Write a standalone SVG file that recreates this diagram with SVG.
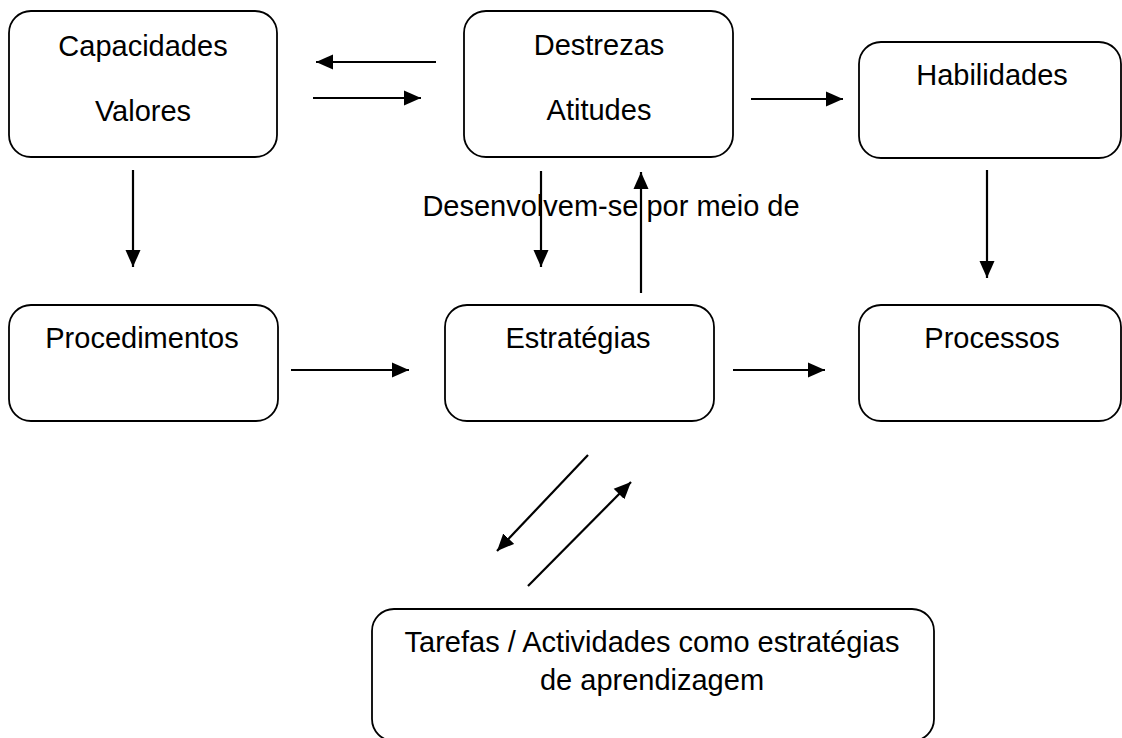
<svg xmlns="http://www.w3.org/2000/svg" width="1122" height="738" viewBox="0 0 1122 738">
<defs>
<marker id="arr" markerUnits="userSpaceOnUse" markerWidth="18" markerHeight="16" refX="17" refY="8" orient="auto">
<path d="M0,0.5 L17,8 L0,15.5 z" fill="#000"/>
</marker>
<style>
.box{fill:#fff;stroke:#000;stroke-width:1.8}
.t{font-family:"Liberation Sans",Arial,sans-serif;font-size:29px;fill:#000;text-anchor:middle}
.c{stroke:#000;stroke-width:2.2;fill:none;marker-end:url(#arr)}
</style>
</defs>
<rect width="1122" height="738" fill="#fff"/>
<g id="capacidades">
<rect class="box" x="9" y="11" width="268" height="146" rx="22"/>
<text class="t" x="143" y="56">Capacidades</text>
<text class="t" x="143" y="121">Valores</text>
</g>
<g id="destrezas">
<rect class="box" x="464" y="11" width="269" height="146" rx="22"/>
<text class="t" x="599" y="55">Destrezas</text>
<text class="t" x="599" y="120">Atitudes</text>
</g>
<g id="habilidades">
<rect class="box" x="859" y="42" width="262" height="116" rx="22"/>
<text class="t" x="992" y="85">Habilidades</text>
</g>
<g id="procedimentos">
<rect class="box" x="9" y="305" width="269" height="116" rx="22"/>
<text class="t" x="142" y="348">Procedimentos</text>
</g>
<g id="estrategias">
<rect class="box" x="445" y="305" width="269" height="116" rx="22"/>
<text class="t" x="578" y="348">Estratégias</text>
</g>
<g id="processos">
<rect class="box" x="859" y="305" width="262" height="116" rx="22"/>
<text class="t" x="992" y="348">Processos</text>
</g>
<g id="tarefas">
<rect class="box" x="372" y="609" width="562" height="132" rx="22"/>
<text class="t" x="652" y="652">Tarefas / Actividades como estratégias</text>
<text class="t" x="652" y="690">de aprendizagem</text>
</g>
<g id="label">
<text class="t" x="611" y="216">Desenvolvem-se por meio de</text>
</g>
<g id="connectors">
<line class="c" x1="436" y1="62" x2="316" y2="62"/>
<line class="c" x1="313" y1="98" x2="421" y2="98"/>
<line class="c" x1="751" y1="99" x2="843" y2="99"/>
<line class="c" x1="133" y1="170" x2="133" y2="267"/>
<line class="c" x1="987" y1="170" x2="987" y2="278"/>
<line class="c" x1="541" y1="171" x2="541" y2="267"/>
<line class="c" x1="641" y1="293" x2="641" y2="172"/>
<line class="c" x1="291" y1="370" x2="409" y2="370"/>
<line class="c" x1="733" y1="370" x2="825" y2="370"/>
<line class="c" x1="588" y1="455" x2="497" y2="551"/>
<line class="c" x1="528" y1="586" x2="631" y2="482"/>
</g>
</svg>
